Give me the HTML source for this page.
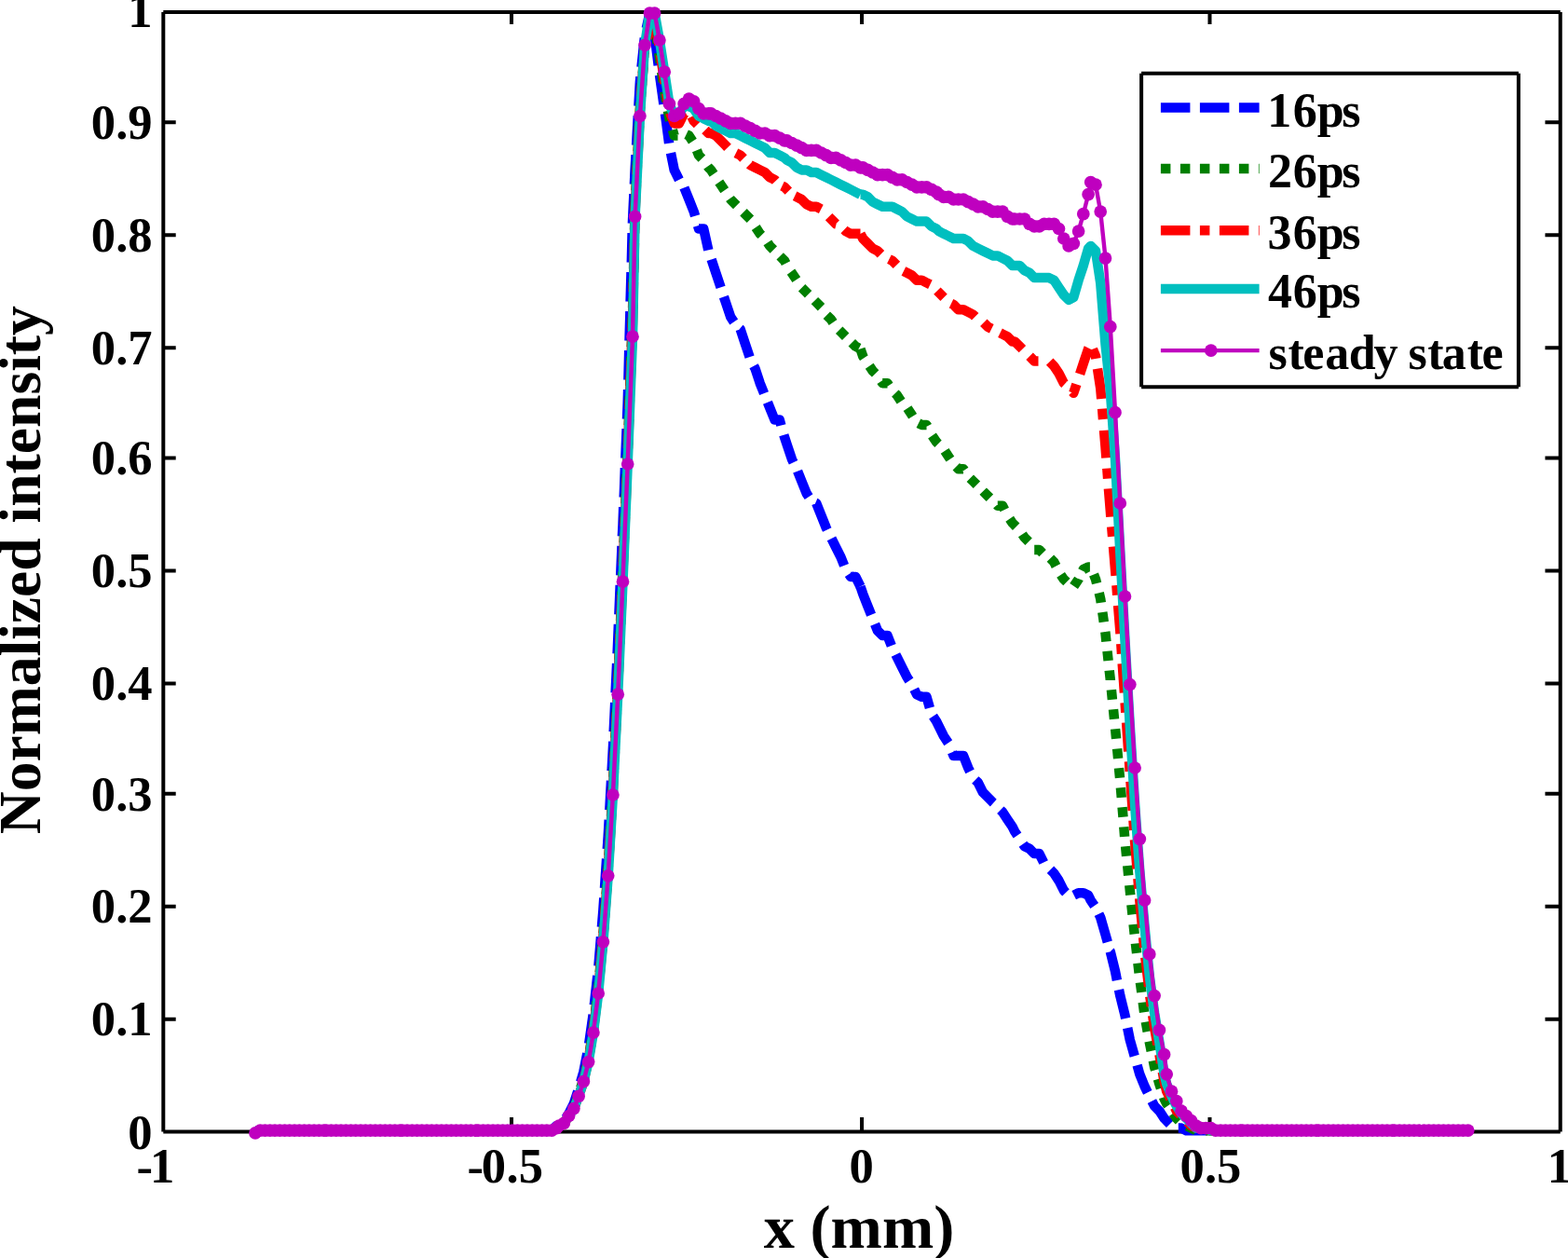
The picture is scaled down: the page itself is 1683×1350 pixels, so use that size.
<!DOCTYPE html>
<html lang="en"><head><meta charset="utf-8"><title>Normalized intensity vs x (mm)</title>
<style>html,body{margin:0;padding:0;background:#fff;overflow:hidden}svg{display:block}text{font-family:"Liberation Serif","DejaVu Serif",serif;font-weight:bold;fill:#000}</style></head><body>
<svg width="1683" height="1350" viewBox="0 0 1683 1350">
<rect width="1683" height="1350" fill="#fff"/>
<g fill="none" stroke="#000" stroke-width="4.0" stroke-linecap="butt">
<path d="M175.3,1214.55H1674.75M175.3,13.0H1674.75M175.3,1214.55V13.0M1674.75,1214.55V13.0"/>
<path d="M175.3,1093.81h13.4M1674.75,1093.81h-16.3M175.3,972.84h13.4M1674.75,972.84h-16.3M175.3,851.87h13.4M1674.75,851.87h-16.3M175.3,733.54h13.4M1674.75,733.54h-16.3M175.3,612.57h13.4M1674.75,612.57h-16.3M175.3,491.61h13.4M1674.75,491.61h-16.3M175.3,373.27h13.4M1674.75,373.27h-16.3M175.3,252.30h13.4M1674.75,252.30h-16.3M175.3,131.34h13.4M1674.75,131.34h-16.3M549.02,1214.55v-15.55M549.02,13.0v12.9M925.06,1214.55v-15.55M925.06,13.0v12.9M1298.48,1214.55v-15.55M1298.48,13.0v12.9"/>
</g>
<g fill="none" stroke-linejoin="round" stroke-linecap="butt">
<path d="M277.3,1213.2L279.3,1213.2L284.5,1213.2L289.8,1213.2L295.0,1213.2L300.3,1213.2L305.6,1213.2L308.8,1213.2M319.3,1213.2L321.3,1213.2L326.6,1213.2L331.8,1213.2L337.1,1213.2L342.4,1213.2L347.6,1213.2L350.3,1213.2L350.8,1213.2M361.3,1213.2L366.0,1213.2L371.3,1213.2L376.6,1213.2L381.8,1213.2L387.1,1213.2L392.3,1213.2L392.8,1213.2M403.3,1213.2L408.1,1213.2L413.4,1213.2L418.6,1213.2L423.9,1213.2L429.1,1213.2L431.8,1213.2L434.8,1213.2M445.3,1213.2L447.6,1213.2L452.8,1213.2L458.1,1213.2L463.3,1213.2L468.6,1213.2L473.9,1213.2L476.8,1213.2M487.3,1213.2L489.6,1213.2L494.9,1213.2L500.2,1213.2L505.4,1213.2L510.7,1213.2L513.3,1213.2L518.6,1213.2L518.8,1213.2M529.3,1213.2L534.3,1213.2L539.6,1213.2L544.9,1213.2L550.1,1213.2L555.4,1213.2L560.6,1213.2L560.8,1213.2M571.3,1213.2L576.4,1213.2L581.7,1213.2L586.9,1213.2L592.2,1213.2L597.4,1208.0L600.1,1208.0L600.4,1207.6M607.3,1199.8L610.6,1194.8L615.9,1184.3L620.2,1171.2M623.2,1161.1L626.4,1150.1L630.3,1130.5M632.2,1120.1L636.6,1089.0M637.8,1078.5L641.3,1047.2M642.4,1036.8L645.0,1005.4M645.9,994.9L647.4,976.6L648.3,963.5M649.0,953.0L651.1,921.6M651.8,911.1L652.7,897.7L653.7,879.7M654.3,869.2L656.0,837.8M656.6,827.3L657.9,803.0L658.3,795.8M658.7,785.3L660.2,753.9M660.6,743.4L662.1,711.9M662.6,701.4L663.2,687.3L663.9,669.9M664.4,659.5L665.7,628.0M666.2,617.5L667.5,586.0M667.9,575.5L668.5,563.7L669.2,544.1M669.7,533.6L670.9,502.1M671.3,491.6L672.6,460.1M673.0,449.6L673.7,432.2L674.1,418.2M674.4,407.7L675.2,376.2M675.5,365.7L676.4,334.2M676.6,323.7L677.5,292.2M677.8,281.7L678.6,250.2M678.9,239.7L679.0,237.6L680.4,208.3M680.9,197.8L681.6,182.4L682.5,166.3M683.1,155.8L684.8,124.4M685.4,113.9L686.9,87.7L687.4,82.5M688.5,72.0L691.8,40.7M693.8,30.4L697.4,14.1L700.6,28.6M702.8,38.8L706.7,70.1M708.0,80.5L712.4,111.7M713.9,122.1L718.1,153.7M720.0,164.1L723.7,182.4L728.9,192.9M734.4,201.4L739.5,214.0L744.7,227.1L746.1,231.8M749.0,242.2L750.0,245.5L755.2,245.5L760.3,268.3M763.6,278.4L768.4,292.8L773.6,308.4M776.9,318.5L778.9,324.4L784.2,340.2L787.7,345.5M794.1,352.8L794.7,353.3L799.9,369.1L804.6,383.1M809.1,392.8L810.5,395.4L815.7,411.2L820.1,422.1M823.9,431.7L826.2,437.5L831.5,450.6L836.8,450.6L838.4,456.5M841.3,466.7L842.0,469.0L844.6,476.9L849.9,492.7L851.6,496.2M856.1,505.6L860.4,516.4L865.7,529.5L868.1,533.1M875.3,539.6L876.2,540.0L881.5,553.2L886.7,566.3L887.8,568.5M892.5,577.9L897.2,587.4L902.5,597.9L906.1,606.9M911.2,616.2L913.0,618.9L918.3,618.9L923.5,629.4" stroke="#0000ff" stroke-width="10.5"/>
<path d="M923.5,629.4L926.2,637.3L931.4,650.5L935.1,659.7M939.1,669.8L941.9,676.8L947.2,682.0L952.5,682.0L956.8,692.9M961.4,702.5L963.0,705.7L968.2,716.2L973.5,726.7L976.0,730.5M981.3,739.7L984.0,745.2L989.3,747.8L994.5,747.8L997.9,759.6M1001.5,768.7L1005.1,774.1L1007.7,779.3L1012.9,789.9L1017.8,797.2M1022.0,807.3L1023.5,810.9L1028.7,810.9L1034.0,810.9L1039.2,824.0L1041.1,827.8M1046.8,836.9L1049.8,839.8L1055.0,850.3L1060.3,855.6L1065.5,860.9L1066.3,861.6M1073.8,869.2L1076.1,871.4L1081.3,879.3L1086.6,887.2L1089.2,892.4L1092.0,896.5M1098.0,905.7L1099.7,908.2L1105.0,910.8L1110.2,916.1L1115.5,916.1L1120.2,925.5M1127.5,933.3L1131.3,937.1L1136.5,945.0L1141.8,955.5L1144.0,957.8M1152.7,960.6L1157.6,958.2L1162.8,958.2L1168.1,960.8L1170.7,966.1L1174.7,972.0M1179.4,980.8L1181.2,984.5L1186.5,1002.9L1188.8,1011.0M1191.7,1021.2L1191.8,1021.3L1197.0,1042.3L1198.9,1051.9M1201.0,1062.1L1202.3,1068.6L1207.5,1089.6L1208.2,1092.8M1210.2,1103.1L1212.8,1115.9L1217.7,1133.2M1220.6,1143.2L1223.3,1152.8L1228.6,1165.9L1231.8,1172.3M1236.4,1181.6L1239.1,1186.9L1244.4,1192.2L1249.6,1200.1L1252.2,1202.7L1255.7,1206.2M1264.8,1210.6L1268.0,1210.6L1273.3,1213.2L1278.5,1213.2L1283.8,1213.2L1289.1,1213.2L1294.3,1213.2L1295.7,1213.2M1306.2,1213.2L1310.1,1213.2L1315.4,1213.2L1320.6,1213.2L1325.9,1213.2L1331.1,1213.2L1333.8,1213.2L1337.7,1213.2M1348.2,1213.2L1349.5,1213.2L1354.8,1213.2L1360.1,1213.2L1365.3,1213.2L1370.6,1213.2L1375.8,1213.2L1379.7,1213.2M1390.2,1213.2L1391.6,1213.2L1396.9,1213.2L1402.1,1213.2L1407.4,1213.2L1412.7,1213.2L1415.3,1213.2L1420.5,1213.2L1421.7,1213.2M1432.2,1213.2L1436.3,1213.2L1441.6,1213.2L1446.8,1213.2L1452.1,1213.2L1457.4,1213.2L1462.6,1213.2L1463.7,1213.2M1474.2,1213.2L1478.4,1213.2L1483.7,1213.2L1488.9,1213.2L1494.2,1213.2L1496.8,1213.2L1502.1,1213.2L1505.7,1213.2M1516.2,1213.2L1517.8,1213.2L1523.1,1213.2L1528.4,1213.2L1533.6,1213.2L1538.9,1213.2L1544.1,1213.2L1547.7,1213.2M1558.2,1213.2L1559.9,1213.2L1565.2,1213.2L1570.4,1213.2L1575.7,1213.2" stroke="#0000ff" stroke-width="10.5"/>
<path d="M274.0,1213.2L279.3,1213.2L282.3,1213.2M292.8,1213.2L295.0,1213.2L300.3,1213.2L303.3,1213.2M313.8,1213.2L316.1,1213.2L321.3,1213.2L324.3,1213.2M334.8,1213.2L337.1,1213.2L342.4,1213.2L345.3,1213.2M355.8,1213.2L360.8,1213.2L366.0,1213.2L366.3,1213.2M376.8,1213.2L381.8,1213.2L387.1,1213.2L387.3,1213.2M397.8,1213.2L402.9,1213.2L408.1,1213.2L408.3,1213.2M418.8,1213.2L423.9,1213.2L429.1,1213.2L429.3,1213.2M439.8,1213.2L442.3,1213.2L447.6,1213.2L450.3,1213.2M460.8,1213.2L463.3,1213.2L468.6,1213.2L471.3,1213.2M481.8,1213.2L484.4,1213.2L489.6,1213.2L492.3,1213.2M502.8,1213.2L505.4,1213.2L510.7,1213.2L513.3,1213.2M523.8,1213.2L529.1,1213.2L534.3,1213.2M544.8,1213.2L544.9,1213.2L550.1,1213.2L555.3,1213.2M565.8,1213.2L565.9,1213.2L571.2,1213.2L576.3,1213.2M586.8,1213.2L586.9,1213.2L592.2,1213.2L596.8,1211.0M605.4,1205.3L610.6,1197.5L611.2,1196.5M616.5,1187.5L619.9,1177.6M623.2,1167.6L626.4,1158.0L626.5,1157.6M629.0,1147.4L631.6,1137.3M633.2,1126.9L634.8,1116.5M636.4,1106.1L636.9,1102.8L637.8,1095.7M639.1,1085.3L640.4,1074.9M641.7,1064.5L642.2,1060.7L642.8,1054.0M643.7,1043.6L644.7,1033.1M645.6,1022.7L646.6,1012.2M647.5,1001.7L648.3,991.3M649.0,980.8L649.8,970.3M650.6,959.9L651.4,949.4M652.2,938.9L652.7,931.9L652.9,928.4M653.5,918.0L654.1,907.5M654.7,897.0L655.3,886.5M656.0,876.0L656.6,865.5M657.2,855.1L657.8,844.6M658.3,834.1L658.9,823.6M659.4,813.1L659.9,802.6M660.4,792.1L660.9,781.7M661.4,771.2L661.9,760.7M662.4,750.2L662.9,739.7M663.4,729.2L663.9,718.7M664.3,708.2L664.8,697.7M665.2,687.3L665.7,676.8M666.1,666.3L666.5,655.8M667.0,645.3L667.4,634.8M667.9,624.3L668.3,613.8M668.8,603.3L669.2,592.8M669.6,582.4L670.1,571.9M670.5,561.4L671.0,550.9M671.4,540.4L671.8,529.9M672.3,519.4L672.7,508.9M673.1,498.4L673.6,487.9M674.0,477.4L674.3,466.9M674.7,456.5L675.1,446.0M675.5,435.5L675.8,425.0M676.2,414.5L676.6,404.0M677.0,393.5L677.3,383.0M677.7,372.5L678.1,362.0M678.5,351.5L678.8,341.0M679.1,330.5L679.4,320.0M679.6,309.5L679.8,299.0M680.1,288.5L680.3,278.0M680.6,267.5L680.8,257.1M681.0,246.6L681.3,236.1M681.5,225.6L681.6,221.8L681.9,215.1M682.5,204.6L683.0,194.1M683.5,183.6L684.0,173.1M684.6,162.6L685.1,152.1M685.6,141.7L686.1,131.2M686.7,120.7L686.9,116.7L687.4,110.2M688.2,99.7L689.0,89.3M689.8,78.8L690.6,68.3M691.4,57.9L692.1,48.3L692.5,47.5M697.2,38.1L697.4,37.8L701.9,28.7M704.0,36.0L705.6,46.4M707.2,56.8L707.9,61.4L708.7,67.2M710.2,77.6L711.7,87.9M713.2,98.3L715.1,108.7M716.9,119.0L718.4,127.2L719.0,129.3M721.9,139.4L723.7,145.6L727.5,145.6M736.6,144.2L739.5,145.6L743.4,151.6M747.9,161.3L750.0,166.6L753.4,170.1M759.6,178.5L760.5,179.8L763.1,182.4L766.0,186.7M771.8,195.5L773.6,198.2L777.7,204.3M783.5,213.0L784.2,214.0L789.4,219.2L790.7,220.5M798.0,227.8L799.9,229.7L805.2,235.0L805.4,235.2M811.2,244.0L815.7,250.8L817.3,252.4M823.9,260.4L826.2,263.9L830.3,268.0M837.2,274.9L842.0,279.7L843.5,282.6M849.0,291.6L849.9,292.8L854.8,300.2M860.6,308.8L865.7,313.9L867.6,315.8M874.4,322.6L876.2,324.4L881.5,329.7M887.3,338.2L892.0,342.8L894.1,346.0M900.7,354.2L902.5,356.0L907.7,361.2M914.3,367.7L918.3,371.7L922.0,373.6" stroke="#007f00" stroke-width="10.5"/>
<path d="M923.5,374.4L926.2,382.3L927.4,384.1M933.2,392.8L936.7,398.0L939.6,400.9M945.8,409.1L947.2,411.2L952.5,411.2L954.1,413.6M960.8,422.1L963.0,424.3L967.1,430.6M974.0,438.2L978.8,445.4L979.6,446.7M985.9,454.2L989.3,455.9L994.5,455.9L995.3,457.4M1000.5,467.5L1005.1,474.3L1007.0,476.2M1014.1,483.9L1018.2,490.1L1019.9,492.6M1026.3,500.8L1028.7,503.2L1034.0,503.2L1035.0,504.7M1041.3,513.2L1044.5,516.4L1048.4,520.3M1055.2,527.1L1060.3,532.2L1062.4,534.3M1070.1,541.9L1070.8,542.7L1076.1,542.7L1078.2,547.0M1083.7,556.8L1086.6,561.1L1089.2,563.7L1090.7,565.2M1097.3,573.3L1099.7,576.9L1104.1,581.3M1110.2,590.0L1115.5,590.0L1119.1,593.6M1127.4,599.2L1131.3,603.2L1133.5,607.5M1138.6,616.8L1141.8,621.6L1144.9,624.6M1152.6,629.0L1157.6,621.6L1157.8,621.1M1162.0,612.6L1162.8,611.0L1168.1,608.4L1169.9,608.4M1174.0,616.5L1176.0,621.6L1177.1,626.1M1179.7,636.3L1181.2,642.6L1181.8,646.7M1183.3,657.1L1184.8,667.5M1186.3,678.0L1186.5,679.4L1187.4,688.4M1188.5,698.7L1189.6,709.0M1190.7,719.5L1191.8,729.4L1191.8,729.9M1192.9,740.3L1193.9,750.8M1195.0,761.3L1196.0,771.8M1197.1,782.3L1198.1,792.8M1199.1,803.4L1200.1,813.9M1201.0,824.2L1202.0,834.7M1202.9,845.3L1203.8,855.9M1204.6,866.3L1205.5,876.8M1206.3,887.3L1207.1,897.8M1208.1,908.3L1209.1,918.7M1210.2,929.1L1211.2,939.6M1212.3,950.1L1212.8,955.5L1213.3,960.6M1214.4,971.0L1215.5,981.4M1216.6,992.0L1217.7,1002.4M1218.9,1012.5L1220.1,1022.9M1221.4,1033.6L1222.6,1044.1M1223.9,1054.4L1225.3,1064.9M1226.7,1075.6L1228.1,1086.2M1229.8,1096.6L1231.7,1107.0M1233.6,1117.5L1233.8,1118.6L1235.7,1127.9M1237.8,1138.2L1239.1,1144.9L1240.1,1148.3M1242.9,1158.0L1244.4,1163.3L1245.9,1167.8M1249.1,1177.5L1249.6,1179.1L1252.2,1184.3L1253.7,1186.5M1259.2,1194.8L1262.8,1200.1L1265.5,1202.8M1274.2,1208.4L1278.5,1210.6L1283.6,1213.1M1294.1,1213.2L1294.3,1213.2L1299.6,1213.2L1304.6,1213.2M1315.1,1213.2L1315.4,1213.2L1320.6,1213.2L1325.6,1213.2M1336.1,1213.2L1339.0,1213.2L1344.3,1213.2L1346.6,1213.2M1357.1,1213.2L1360.1,1213.2L1365.3,1213.2L1367.6,1213.2M1378.1,1213.2L1381.1,1213.2L1386.4,1213.2L1388.6,1213.2M1399.1,1213.2L1402.1,1213.2L1407.4,1213.2L1409.6,1213.2M1420.1,1213.2L1420.5,1213.2L1425.8,1213.2L1430.6,1213.2M1441.1,1213.2L1441.6,1213.2L1446.8,1213.2L1451.6,1213.2M1462.1,1213.2L1462.6,1213.2L1467.9,1213.2L1472.6,1213.2M1483.1,1213.2L1483.7,1213.2L1488.9,1213.2L1493.6,1213.2M1504.1,1213.2L1507.3,1213.2L1512.6,1213.2L1514.6,1213.2M1525.1,1213.2L1528.4,1213.2L1533.6,1213.2L1535.6,1213.2M1546.1,1213.2L1549.4,1213.2L1554.7,1213.2L1556.6,1213.2M1567.1,1213.2L1570.4,1213.2L1575.7,1213.2" stroke="#007f00" stroke-width="10.5"/>
<path d="M274.0,1213.2L279.3,1213.2L284.5,1213.2L289.8,1213.2L295.0,1213.2L299.6,1213.2M310.1,1213.2L310.8,1213.2L316.1,1213.2L320.6,1213.2M331.1,1213.2L331.8,1213.2L337.1,1213.2L342.4,1213.2L347.6,1213.2L350.3,1213.2L355.5,1213.2L360.8,1213.2L362.6,1213.2M373.1,1213.2L376.6,1213.2L381.8,1213.2L383.6,1213.2M394.1,1213.2L397.6,1213.2L402.9,1213.2L408.1,1213.2L413.4,1213.2L418.6,1213.2L423.9,1213.2L425.6,1213.2M436.1,1213.2L437.0,1213.2L442.3,1213.2L446.6,1213.2M457.1,1213.2L458.1,1213.2L463.3,1213.2L468.6,1213.2L473.9,1213.2L479.1,1213.2L484.4,1213.2L488.6,1213.2M499.1,1213.2L500.2,1213.2L505.4,1213.2L509.6,1213.2M520.1,1213.2L523.8,1213.2L529.1,1213.2L534.3,1213.2L539.6,1213.2L544.9,1213.2L550.1,1213.2L551.6,1213.2M562.1,1213.2L565.9,1213.2L571.2,1213.2L572.6,1213.2M583.1,1213.2L586.9,1213.2L592.2,1213.2L597.4,1210.6L600.1,1208.0L605.3,1205.4L609.2,1199.5M615.0,1190.8L615.9,1189.6L619.2,1181.2M622.8,1171.3L626.4,1160.6L630.8,1140.9M632.7,1130.6L634.4,1120.2M636.2,1109.9L636.9,1105.4L640.2,1078.6M641.5,1068.2L642.2,1063.4L642.7,1057.8M643.6,1047.3L646.5,1016.0M647.4,1005.5L648.2,995.0M649.0,984.6L651.3,953.1M652.1,942.7L652.7,934.5L652.8,932.2M653.4,921.7L655.4,890.3M656.0,879.8L656.6,869.3M657.3,858.8L657.9,847.7L658.9,827.4M659.4,816.9L659.9,806.4M660.4,795.9L661.9,764.5M662.4,754.0L662.9,743.5M663.4,733.0L664.7,701.5M665.2,691.0L665.7,680.5M666.1,670.0L667.5,638.6M667.9,628.1L668.4,617.6M668.8,607.1L670.1,575.6M670.6,565.1L671.0,554.7M671.5,544.2L672.8,512.7M673.2,502.2L673.6,491.7M674.0,481.2L675.2,449.7M675.6,439.2L675.9,428.7M676.3,418.3L677.5,386.8M677.8,376.3L678.2,365.8M678.6,355.3L679.0,345.4L679.5,323.8M679.7,313.3L679.9,302.8M680.2,292.3L680.9,260.8M681.1,250.3L681.3,239.8M681.6,229.3L681.6,227.1L683.0,197.9M683.5,187.4L684.0,176.9M684.6,166.4L686.1,134.9M686.6,124.5L686.9,119.3L687.3,114.0M688.0,103.5L690.4,72.1M691.1,61.6L691.9,51.1M694.5,41.0L697.4,32.5L702.6,19.4L704.0,27.6M705.7,37.9L707.5,48.3M709.0,58.7L713.2,87.7L713.5,89.9M715.2,100.2L717.0,110.6M719.0,120.8L723.7,132.4L728.9,132.4L734.2,121.9L736.0,121.0M742.4,125.2L744.7,129.8L748.5,133.6M757.0,139.5L760.5,143.0L763.1,143.0L768.4,145.6L773.6,150.8L778.9,156.1L781.0,158.3M789.9,164.2L794.7,166.6L798.0,170.0M804.6,176.5L805.2,177.1L810.5,179.8L815.7,182.4L821.0,185.0L826.2,190.3L831.5,192.9L832.6,194.1M839.5,199.6L842.0,200.8L844.6,203.4L846.3,205.1M853.1,210.3L855.2,211.3L860.4,214.0L865.7,219.2L870.9,221.8L876.2,221.8L881.3,224.4M889.6,232.6L892.0,235.0L897.2,240.3L897.6,240.4M906.1,246.5L907.8,248.1L913.0,250.8L918.3,250.8L923.5,250.8" stroke="#ff0000" stroke-width="10.5"/>
<path d="M923.5,250.8L926.2,256.0L931.4,261.3L936.7,266.6L941.9,269.2L945.5,272.8M954.4,278.1L957.7,279.7L962.4,284.4M969.9,291.0L973.5,292.8L978.8,295.5L984.0,300.7L989.3,300.7L994.5,303.4L998.4,305.3M1005.9,312.1L1007.7,313.9L1012.9,319.1L1013.1,319.3M1021.0,325.8L1023.5,327.0L1028.7,332.3L1034.0,332.3L1039.2,334.9L1044.5,337.6L1046.7,339.8M1055.8,346.2L1060.3,350.7L1064.3,352.7M1073.5,357.3L1076.1,358.6L1081.3,361.2L1086.6,366.5L1089.2,366.5L1094.5,371.7L1097.4,374.6M1105.1,382.3L1110.2,387.5L1114.5,387.5M1126.7,388.1L1131.3,392.8L1136.5,400.7L1141.8,411.2L1142.8,412.1M1151.0,420.4L1152.3,421.7L1155.4,412.4M1159.1,401.4L1162.8,390.1L1168.1,374.4L1168.5,373.6M1172.9,374.6L1176.0,382.3L1176.4,384.8M1178.0,395.6L1181.2,416.4L1182.2,428.0M1183.1,438.7L1184.0,450.0M1185.0,461.9L1186.5,479.6L1187.4,491.3M1188.3,502.6L1189.1,513.6M1189.9,524.3L1191.8,547.9L1192.3,554.6M1193.2,565.2L1194.1,575.8M1195.0,586.5L1197.0,611.0L1197.6,617.7M1198.4,628.0L1199.2,638.7M1200.1,649.8L1202.3,676.8L1202.5,680.1M1203.3,691.0L1204.0,701.7M1204.7,712.2L1206.9,743.4M1207.6,754.1L1208.3,764.7M1209.1,775.4L1211.2,806.5M1212.0,817.2L1212.7,827.9M1213.5,838.6L1215.7,869.8M1216.5,880.5L1217.2,890.9M1217.9,901.0L1218.1,902.9L1220.5,932.2M1221.4,942.9L1222.3,953.6M1223.2,964.3L1223.3,966.1L1226.1,995.5M1227.1,1006.1L1228.1,1016.7M1229.3,1027.4L1233.0,1058.6M1234.3,1069.3L1235.8,1079.7M1237.2,1089.8L1239.1,1102.8L1242.4,1121.0M1244.2,1131.1L1244.4,1131.7L1246.0,1140.9M1247.8,1150.4L1249.6,1160.6L1252.2,1171.2L1256.2,1179.0M1260.9,1188.4L1262.8,1192.2L1267.2,1196.6M1274.6,1204.0L1278.5,1208.0L1283.8,1210.6L1289.1,1210.6L1294.3,1210.6L1299.6,1213.2L1303.2,1213.2M1313.7,1213.2L1315.4,1213.2L1320.6,1213.2L1324.2,1213.2M1334.7,1213.2L1339.0,1213.2L1344.3,1213.2L1349.5,1213.2L1354.8,1213.2L1360.1,1213.2L1365.3,1213.2L1366.2,1213.2M1376.7,1213.2L1381.1,1213.2L1386.4,1213.2L1387.2,1213.2M1397.7,1213.2L1402.1,1213.2L1407.4,1213.2L1412.7,1213.2L1415.3,1213.2L1420.5,1213.2L1425.8,1213.2L1429.2,1213.2M1439.7,1213.2L1441.6,1213.2L1446.8,1213.2L1450.2,1213.2M1460.7,1213.2L1462.6,1213.2L1467.9,1213.2L1473.1,1213.2L1478.4,1213.2L1483.7,1213.2L1488.9,1213.2L1492.2,1213.2M1502.7,1213.2L1507.3,1213.2L1512.6,1213.2L1513.2,1213.2M1523.7,1213.2L1528.4,1213.2L1533.6,1213.2L1538.9,1213.2L1544.1,1213.2L1549.4,1213.2L1554.7,1213.2L1555.2,1213.2M1565.7,1213.2L1570.4,1213.2L1575.7,1213.2" stroke="#ff0000" stroke-width="10.5"/>
<path d="M274.0,1213.2L279.3,1213.2L284.5,1213.2L289.8,1213.2L295.0,1213.2L300.3,1213.2L305.6,1213.2L310.8,1213.2L316.1,1213.2L321.3,1213.2L326.6,1213.2L331.8,1213.2L337.1,1213.2L342.4,1213.2L347.6,1213.2L350.3,1213.2L355.5,1213.2L360.8,1213.2L366.0,1213.2L371.3,1213.2L376.6,1213.2L381.8,1213.2L387.1,1213.2L392.3,1213.2L397.6,1213.2L402.9,1213.2L408.1,1213.2L413.4,1213.2L418.6,1213.2L423.9,1213.2L429.1,1213.2L431.8,1213.2L437.0,1213.2L442.3,1213.2L447.6,1213.2L452.8,1213.2L458.1,1213.2L463.3,1213.2L468.6,1213.2L473.9,1213.2L479.1,1213.2L484.4,1213.2L489.6,1213.2L494.9,1213.2L500.2,1213.2L505.4,1213.2L510.7,1213.2L513.3,1213.2L518.6,1213.2L523.8,1213.2L529.1,1213.2L534.3,1213.2L539.6,1213.2L544.9,1213.2L550.1,1213.2L555.4,1213.2L560.6,1213.2L565.9,1213.2L571.2,1213.2L576.4,1213.2L581.7,1213.2L586.9,1213.2L592.2,1213.2L597.4,1210.6L600.1,1208.0L605.3,1205.4L610.6,1197.5L615.9,1189.6L621.1,1176.4L626.4,1160.6L631.6,1139.6L636.9,1108.1L642.2,1066.0L647.4,1010.8L652.7,939.8L657.9,853.0L663.2,745.2L668.5,624.2L673.7,498.0L679.0,361.2L681.6,232.4L686.9,124.5L692.1,48.3L697.4,14.1L702.6,14.1L707.9,43.0L713.2,77.2L718.4,111.4L723.7,124.5L728.9,121.9L734.2,114.0L739.5,114.0L744.7,116.7L750.0,124.5L755.2,127.2L760.5,129.8L763.1,129.8L768.4,135.1L773.6,137.7L778.9,140.3L784.2,143.0L789.4,143.0L794.7,145.6L799.9,148.2L805.2,150.8L810.5,153.5L815.7,156.1L821.0,158.7L826.2,164.0L831.5,164.0L836.8,166.6L842.0,169.3L844.6,171.9L849.9,174.5L855.2,179.8L860.4,182.4L865.7,182.4L870.9,185.0L876.2,185.0L881.5,187.7L886.7,190.3L892.0,192.9L897.2,195.5L902.5,198.2L907.8,200.8L913.0,203.4L918.3,206.1L923.5,208.7" stroke="#00bfbf" stroke-width="10.5"/>
<path d="M923.5,208.7L926.2,208.7L931.4,211.3L936.7,216.6L941.9,219.2L947.2,221.8L952.5,221.8L957.7,221.8L963.0,224.5L968.2,227.1L973.5,232.4L978.8,235.0L984.0,237.6L989.3,237.6L994.5,237.6L999.8,242.9L1005.1,245.5L1007.7,248.1L1012.9,250.8L1018.2,253.4L1023.5,256.0L1028.7,256.0L1034.0,256.0L1039.2,258.7L1044.5,263.9L1049.8,266.6L1055.0,269.2L1060.3,271.8L1065.5,274.4L1070.8,274.4L1076.1,277.1L1081.3,279.7L1086.6,285.0L1089.2,285.0L1094.5,285.0L1099.7,290.2L1105.0,292.8L1110.2,298.1L1115.5,298.1L1120.8,298.1L1126.0,298.1L1131.3,300.7L1136.5,308.6L1141.8,316.5L1147.1,321.8L1152.3,319.1L1157.6,300.7L1162.8,285.0L1168.1,266.6L1170.7,263.9L1176.0,269.2L1181.2,303.4L1186.5,369.1L1191.8,419.1L1197.0,492.7L1202.3,592.6L1207.5,687.3L1212.8,779.3L1218.1,863.5L1223.3,934.5L1228.6,995.0L1233.8,1047.6L1239.1,1087.0L1244.4,1118.6L1249.6,1152.8L1252.2,1163.3L1257.5,1176.4L1262.8,1186.9L1268.0,1194.8L1273.3,1200.1L1278.5,1205.4L1283.8,1210.6L1289.1,1210.6L1294.3,1210.6L1299.6,1213.2L1304.8,1213.2L1310.1,1213.2L1315.4,1213.2L1320.6,1213.2L1325.9,1213.2L1331.1,1213.2L1333.8,1213.2L1339.0,1213.2L1344.3,1213.2L1349.5,1213.2L1354.8,1213.2L1360.1,1213.2L1365.3,1213.2L1370.6,1213.2L1375.8,1213.2L1381.1,1213.2L1386.4,1213.2L1391.6,1213.2L1396.9,1213.2L1402.1,1213.2L1407.4,1213.2L1412.7,1213.2L1415.3,1213.2L1420.5,1213.2L1425.8,1213.2L1431.1,1213.2L1436.3,1213.2L1441.6,1213.2L1446.8,1213.2L1452.1,1213.2L1457.4,1213.2L1462.6,1213.2L1467.9,1213.2L1473.1,1213.2L1478.4,1213.2L1483.7,1213.2L1488.9,1213.2L1494.2,1213.2L1496.8,1213.2L1502.1,1213.2L1507.3,1213.2L1512.6,1213.2L1517.8,1213.2L1523.1,1213.2L1528.4,1213.2L1533.6,1213.2L1538.9,1213.2L1544.1,1213.2L1549.4,1213.2L1554.7,1213.2L1559.9,1213.2L1565.2,1213.2L1570.4,1213.2L1575.7,1213.2" stroke="#00bfbf" stroke-width="10.5"/>
<path d="M274.0,1215.9L279.3,1213.2L284.5,1213.2L289.8,1213.2L295.0,1213.2L300.3,1213.2L305.6,1213.2L310.8,1213.2L316.1,1213.2L321.3,1213.2L326.6,1213.2L331.8,1213.2L337.1,1213.2L342.4,1213.2L347.6,1213.2L350.3,1213.2L355.5,1213.2L360.8,1213.2L366.0,1213.2L371.3,1213.2L376.6,1213.2L381.8,1213.2L387.1,1213.2L392.3,1213.2L397.6,1213.2L402.9,1213.2L408.1,1213.2L413.4,1213.2L418.6,1213.2L423.9,1213.2L429.1,1213.2L431.8,1213.2L437.0,1213.2L442.3,1213.2L447.6,1213.2L452.8,1213.2L458.1,1213.2L463.3,1213.2L468.6,1213.2L473.9,1213.2L479.1,1213.2L484.4,1213.2L489.6,1213.2L494.9,1213.2L500.2,1213.2L505.4,1213.2L510.7,1213.2L513.3,1213.2L518.6,1213.2L523.8,1213.2L529.1,1213.2L534.3,1213.2L539.6,1213.2L544.9,1213.2L550.1,1213.2L555.4,1213.2L560.6,1213.2L565.9,1213.2L571.2,1213.2L576.4,1213.2L581.7,1213.2L586.9,1213.2L592.2,1213.2L597.4,1210.6L600.1,1208.0L605.3,1205.4L610.6,1197.5L615.9,1189.6L621.1,1176.4L626.4,1160.6L631.6,1139.6L636.9,1108.1L642.2,1066.0L647.4,1010.8L652.7,939.8L657.9,853.0L663.2,745.2L668.5,624.2L673.7,498.0L679.0,361.2L681.6,232.4L686.9,124.5L692.1,48.3L697.4,14.1L702.6,14.1L707.9,43.0L713.2,77.2L718.4,111.4L723.7,124.5L728.9,121.9L734.2,111.4L739.5,106.1L744.7,108.8L750.0,116.7L755.2,121.9L760.5,121.9L763.1,121.9L768.4,124.5L773.6,127.2L778.9,129.8L784.2,132.4L789.4,132.4L794.7,132.4L799.9,135.1L805.2,137.7L810.5,140.3L815.7,143.0L821.0,143.0L826.2,145.6L831.5,145.6L836.8,148.2L842.0,150.8L844.6,150.8L849.9,153.5L855.2,156.1L860.4,158.7L865.7,161.4L870.9,161.4L876.2,161.4L881.5,164.0L886.7,166.6L892.0,169.3L897.2,169.3L902.5,171.9L907.8,174.5L913.0,177.1L918.3,177.1L923.5,179.8" stroke="#bf00bf" stroke-width="4.4"/>
<path d="M923.5,179.8L926.2,179.8L931.4,182.4L936.7,185.0L941.9,187.7L947.2,187.7L952.5,187.7L957.7,190.3L963.0,192.9L968.2,192.9L973.5,195.5L978.8,198.2L984.0,200.8L989.3,200.8L994.5,200.8L999.8,203.4L1005.1,206.1L1007.7,208.7L1012.9,211.3L1018.2,211.3L1023.5,214.0L1028.7,214.0L1034.0,214.0L1039.2,216.6L1044.5,219.2L1049.8,221.8L1055.0,221.8L1060.3,224.5L1065.5,227.1L1070.8,227.1L1076.1,227.1L1081.3,232.4L1086.6,235.0L1089.2,235.0L1094.5,235.0L1099.7,235.0L1105.0,240.3L1110.2,242.9L1115.5,242.9L1120.8,240.3L1126.0,240.3L1131.3,240.3L1136.5,245.5L1141.8,256.0L1147.1,263.9L1152.3,261.3L1157.6,248.1L1162.8,229.7L1168.1,208.7L1170.7,195.5L1176.0,198.2L1181.2,227.1L1186.5,277.1L1191.8,350.7L1197.0,442.7L1202.3,540.0L1207.5,640.0L1212.8,734.6L1218.1,824.0L1223.3,900.3L1228.6,966.1L1233.8,1023.9L1239.1,1068.6L1244.4,1105.4L1249.6,1131.7L1252.2,1152.8L1257.5,1171.2L1262.8,1181.7L1268.0,1192.2L1273.3,1197.5L1278.5,1202.7L1283.8,1208.0L1289.1,1210.6L1294.3,1210.6L1299.6,1210.6L1304.8,1213.2L1310.1,1213.2L1315.4,1213.2L1320.6,1213.2L1325.9,1213.2L1331.1,1213.2L1333.8,1213.2L1339.0,1213.2L1344.3,1213.2L1349.5,1213.2L1354.8,1213.2L1360.1,1213.2L1365.3,1213.2L1370.6,1213.2L1375.8,1213.2L1381.1,1213.2L1386.4,1213.2L1391.6,1213.2L1396.9,1213.2L1402.1,1213.2L1407.4,1213.2L1412.7,1213.2L1415.3,1213.2L1420.5,1213.2L1425.8,1213.2L1431.1,1213.2L1436.3,1213.2L1441.6,1213.2L1446.8,1213.2L1452.1,1213.2L1457.4,1213.2L1462.6,1213.2L1467.9,1213.2L1473.1,1213.2L1478.4,1213.2L1483.7,1213.2L1488.9,1213.2L1494.2,1213.2L1496.8,1213.2L1502.1,1213.2L1507.3,1213.2L1512.6,1213.2L1517.8,1213.2L1523.1,1213.2L1528.4,1213.2L1533.6,1213.2L1538.9,1213.2L1544.1,1213.2L1549.4,1213.2L1554.7,1213.2L1559.9,1213.2L1565.2,1213.2L1570.4,1213.2L1575.7,1213.2" stroke="#bf00bf" stroke-width="4.4"/>
</g>
<g fill="#bf00bf">
<circle cx="274.0" cy="1215.9" r="6.85"/>
<circle cx="279.3" cy="1213.2" r="6.85"/>
<circle cx="284.5" cy="1213.2" r="6.85"/>
<circle cx="289.8" cy="1213.2" r="6.85"/>
<circle cx="295.0" cy="1213.2" r="6.85"/>
<circle cx="300.3" cy="1213.2" r="6.85"/>
<circle cx="305.6" cy="1213.2" r="6.85"/>
<circle cx="310.8" cy="1213.2" r="6.85"/>
<circle cx="316.1" cy="1213.2" r="6.85"/>
<circle cx="321.3" cy="1213.2" r="6.85"/>
<circle cx="326.6" cy="1213.2" r="6.85"/>
<circle cx="331.8" cy="1213.2" r="6.85"/>
<circle cx="337.1" cy="1213.2" r="6.85"/>
<circle cx="342.4" cy="1213.2" r="6.85"/>
<circle cx="347.6" cy="1213.2" r="6.85"/>
<circle cx="350.3" cy="1213.2" r="6.85"/>
<circle cx="355.5" cy="1213.2" r="6.85"/>
<circle cx="360.8" cy="1213.2" r="6.85"/>
<circle cx="366.0" cy="1213.2" r="6.85"/>
<circle cx="371.3" cy="1213.2" r="6.85"/>
<circle cx="376.6" cy="1213.2" r="6.85"/>
<circle cx="381.8" cy="1213.2" r="6.85"/>
<circle cx="387.1" cy="1213.2" r="6.85"/>
<circle cx="392.3" cy="1213.2" r="6.85"/>
<circle cx="397.6" cy="1213.2" r="6.85"/>
<circle cx="402.9" cy="1213.2" r="6.85"/>
<circle cx="408.1" cy="1213.2" r="6.85"/>
<circle cx="413.4" cy="1213.2" r="6.85"/>
<circle cx="418.6" cy="1213.2" r="6.85"/>
<circle cx="423.9" cy="1213.2" r="6.85"/>
<circle cx="429.1" cy="1213.2" r="6.85"/>
<circle cx="431.8" cy="1213.2" r="6.85"/>
<circle cx="437.0" cy="1213.2" r="6.85"/>
<circle cx="442.3" cy="1213.2" r="6.85"/>
<circle cx="447.6" cy="1213.2" r="6.85"/>
<circle cx="452.8" cy="1213.2" r="6.85"/>
<circle cx="458.1" cy="1213.2" r="6.85"/>
<circle cx="463.3" cy="1213.2" r="6.85"/>
<circle cx="468.6" cy="1213.2" r="6.85"/>
<circle cx="473.9" cy="1213.2" r="6.85"/>
<circle cx="479.1" cy="1213.2" r="6.85"/>
<circle cx="484.4" cy="1213.2" r="6.85"/>
<circle cx="489.6" cy="1213.2" r="6.85"/>
<circle cx="494.9" cy="1213.2" r="6.85"/>
<circle cx="500.2" cy="1213.2" r="6.85"/>
<circle cx="505.4" cy="1213.2" r="6.85"/>
<circle cx="510.7" cy="1213.2" r="6.85"/>
<circle cx="513.3" cy="1213.2" r="6.85"/>
<circle cx="518.6" cy="1213.2" r="6.85"/>
<circle cx="523.8" cy="1213.2" r="6.85"/>
<circle cx="529.1" cy="1213.2" r="6.85"/>
<circle cx="534.3" cy="1213.2" r="6.85"/>
<circle cx="539.6" cy="1213.2" r="6.85"/>
<circle cx="544.9" cy="1213.2" r="6.85"/>
<circle cx="550.1" cy="1213.2" r="6.85"/>
<circle cx="555.4" cy="1213.2" r="6.85"/>
<circle cx="560.6" cy="1213.2" r="6.85"/>
<circle cx="565.9" cy="1213.2" r="6.85"/>
<circle cx="571.2" cy="1213.2" r="6.85"/>
<circle cx="576.4" cy="1213.2" r="6.85"/>
<circle cx="581.7" cy="1213.2" r="6.85"/>
<circle cx="586.9" cy="1213.2" r="6.85"/>
<circle cx="592.2" cy="1213.2" r="6.85"/>
<circle cx="597.4" cy="1210.6" r="6.85"/>
<circle cx="600.1" cy="1208.0" r="6.85"/>
<circle cx="605.3" cy="1205.4" r="6.85"/>
<circle cx="610.6" cy="1197.5" r="6.85"/>
<circle cx="615.9" cy="1189.6" r="6.85"/>
<circle cx="621.1" cy="1176.4" r="6.85"/>
<circle cx="626.4" cy="1160.6" r="6.85"/>
<circle cx="631.6" cy="1139.6" r="6.85"/>
<circle cx="636.9" cy="1108.1" r="6.85"/>
<circle cx="642.2" cy="1066.0" r="6.85"/>
<circle cx="647.4" cy="1010.8" r="6.85"/>
<circle cx="652.7" cy="939.8" r="6.85"/>
<circle cx="657.9" cy="853.0" r="6.85"/>
<circle cx="663.2" cy="745.2" r="6.85"/>
<circle cx="668.5" cy="624.2" r="6.85"/>
<circle cx="673.7" cy="498.0" r="6.85"/>
<circle cx="679.0" cy="361.2" r="6.85"/>
<circle cx="681.6" cy="232.4" r="6.85"/>
<circle cx="686.9" cy="124.5" r="6.85"/>
<circle cx="692.1" cy="48.3" r="6.85"/>
<circle cx="697.4" cy="14.1" r="6.85"/>
<circle cx="702.6" cy="14.1" r="6.85"/>
<circle cx="707.9" cy="43.0" r="6.85"/>
<circle cx="713.2" cy="77.2" r="6.85"/>
<circle cx="718.4" cy="111.4" r="6.85"/>
<circle cx="723.7" cy="124.5" r="6.85"/>
<circle cx="728.9" cy="121.9" r="6.85"/>
<circle cx="734.2" cy="111.4" r="6.85"/>
<circle cx="739.5" cy="106.1" r="6.85"/>
<circle cx="744.7" cy="108.8" r="6.85"/>
<circle cx="750.0" cy="116.7" r="6.85"/>
<circle cx="755.2" cy="121.9" r="6.85"/>
<circle cx="760.5" cy="121.9" r="6.85"/>
<circle cx="763.1" cy="121.9" r="6.85"/>
<circle cx="768.4" cy="124.5" r="6.85"/>
<circle cx="773.6" cy="127.2" r="6.85"/>
<circle cx="778.9" cy="129.8" r="6.85"/>
<circle cx="784.2" cy="132.4" r="6.85"/>
<circle cx="789.4" cy="132.4" r="6.85"/>
<circle cx="794.7" cy="132.4" r="6.85"/>
<circle cx="799.9" cy="135.1" r="6.85"/>
<circle cx="805.2" cy="137.7" r="6.85"/>
<circle cx="810.5" cy="140.3" r="6.85"/>
<circle cx="815.7" cy="143.0" r="6.85"/>
<circle cx="821.0" cy="143.0" r="6.85"/>
<circle cx="826.2" cy="145.6" r="6.85"/>
<circle cx="831.5" cy="145.6" r="6.85"/>
<circle cx="836.8" cy="148.2" r="6.85"/>
<circle cx="842.0" cy="150.8" r="6.85"/>
<circle cx="844.6" cy="150.8" r="6.85"/>
<circle cx="849.9" cy="153.5" r="6.85"/>
<circle cx="855.2" cy="156.1" r="6.85"/>
<circle cx="860.4" cy="158.7" r="6.85"/>
<circle cx="865.7" cy="161.4" r="6.85"/>
<circle cx="870.9" cy="161.4" r="6.85"/>
<circle cx="876.2" cy="161.4" r="6.85"/>
<circle cx="881.5" cy="164.0" r="6.85"/>
<circle cx="886.7" cy="166.6" r="6.85"/>
<circle cx="892.0" cy="169.3" r="6.85"/>
<circle cx="897.2" cy="169.3" r="6.85"/>
<circle cx="902.5" cy="171.9" r="6.85"/>
<circle cx="907.8" cy="174.5" r="6.85"/>
<circle cx="913.0" cy="177.1" r="6.85"/>
<circle cx="918.3" cy="177.1" r="6.85"/>
<circle cx="923.5" cy="179.8" r="6.85"/>
<circle cx="926.2" cy="179.8" r="6.85"/>
<circle cx="931.4" cy="182.4" r="6.85"/>
<circle cx="936.7" cy="185.0" r="6.85"/>
<circle cx="941.9" cy="187.7" r="6.85"/>
<circle cx="947.2" cy="187.7" r="6.85"/>
<circle cx="952.5" cy="187.7" r="6.85"/>
<circle cx="957.7" cy="190.3" r="6.85"/>
<circle cx="963.0" cy="192.9" r="6.85"/>
<circle cx="968.2" cy="192.9" r="6.85"/>
<circle cx="973.5" cy="195.5" r="6.85"/>
<circle cx="978.8" cy="198.2" r="6.85"/>
<circle cx="984.0" cy="200.8" r="6.85"/>
<circle cx="989.3" cy="200.8" r="6.85"/>
<circle cx="994.5" cy="200.8" r="6.85"/>
<circle cx="999.8" cy="203.4" r="6.85"/>
<circle cx="1005.1" cy="206.1" r="6.85"/>
<circle cx="1007.7" cy="208.7" r="6.85"/>
<circle cx="1012.9" cy="211.3" r="6.85"/>
<circle cx="1018.2" cy="211.3" r="6.85"/>
<circle cx="1023.5" cy="214.0" r="6.85"/>
<circle cx="1028.7" cy="214.0" r="6.85"/>
<circle cx="1034.0" cy="214.0" r="6.85"/>
<circle cx="1039.2" cy="216.6" r="6.85"/>
<circle cx="1044.5" cy="219.2" r="6.85"/>
<circle cx="1049.8" cy="221.8" r="6.85"/>
<circle cx="1055.0" cy="221.8" r="6.85"/>
<circle cx="1060.3" cy="224.5" r="6.85"/>
<circle cx="1065.5" cy="227.1" r="6.85"/>
<circle cx="1070.8" cy="227.1" r="6.85"/>
<circle cx="1076.1" cy="227.1" r="6.85"/>
<circle cx="1081.3" cy="232.4" r="6.85"/>
<circle cx="1086.6" cy="235.0" r="6.85"/>
<circle cx="1089.2" cy="235.0" r="6.85"/>
<circle cx="1094.5" cy="235.0" r="6.85"/>
<circle cx="1099.7" cy="235.0" r="6.85"/>
<circle cx="1105.0" cy="240.3" r="6.85"/>
<circle cx="1110.2" cy="242.9" r="6.85"/>
<circle cx="1115.5" cy="242.9" r="6.85"/>
<circle cx="1120.8" cy="240.3" r="6.85"/>
<circle cx="1126.0" cy="240.3" r="6.85"/>
<circle cx="1131.3" cy="240.3" r="6.85"/>
<circle cx="1136.5" cy="245.5" r="6.85"/>
<circle cx="1141.8" cy="256.0" r="6.85"/>
<circle cx="1147.1" cy="263.9" r="6.85"/>
<circle cx="1152.3" cy="261.3" r="6.85"/>
<circle cx="1157.6" cy="248.1" r="6.85"/>
<circle cx="1162.8" cy="229.7" r="6.85"/>
<circle cx="1168.1" cy="208.7" r="6.85"/>
<circle cx="1170.7" cy="195.5" r="6.85"/>
<circle cx="1176.0" cy="198.2" r="6.85"/>
<circle cx="1181.2" cy="227.1" r="6.85"/>
<circle cx="1186.5" cy="277.1" r="6.85"/>
<circle cx="1191.8" cy="350.7" r="6.85"/>
<circle cx="1197.0" cy="442.7" r="6.85"/>
<circle cx="1202.3" cy="540.0" r="6.85"/>
<circle cx="1207.5" cy="640.0" r="6.85"/>
<circle cx="1212.8" cy="734.6" r="6.85"/>
<circle cx="1218.1" cy="824.0" r="6.85"/>
<circle cx="1223.3" cy="900.3" r="6.85"/>
<circle cx="1228.6" cy="966.1" r="6.85"/>
<circle cx="1233.8" cy="1023.9" r="6.85"/>
<circle cx="1239.1" cy="1068.6" r="6.85"/>
<circle cx="1244.4" cy="1105.4" r="6.85"/>
<circle cx="1249.6" cy="1131.7" r="6.85"/>
<circle cx="1252.2" cy="1152.8" r="6.85"/>
<circle cx="1257.5" cy="1171.2" r="6.85"/>
<circle cx="1262.8" cy="1181.7" r="6.85"/>
<circle cx="1268.0" cy="1192.2" r="6.85"/>
<circle cx="1273.3" cy="1197.5" r="6.85"/>
<circle cx="1278.5" cy="1202.7" r="6.85"/>
<circle cx="1283.8" cy="1208.0" r="6.85"/>
<circle cx="1289.1" cy="1210.6" r="6.85"/>
<circle cx="1294.3" cy="1210.6" r="6.85"/>
<circle cx="1299.6" cy="1210.6" r="6.85"/>
<circle cx="1304.8" cy="1213.2" r="6.85"/>
<circle cx="1310.1" cy="1213.2" r="6.85"/>
<circle cx="1315.4" cy="1213.2" r="6.85"/>
<circle cx="1320.6" cy="1213.2" r="6.85"/>
<circle cx="1325.9" cy="1213.2" r="6.85"/>
<circle cx="1331.1" cy="1213.2" r="6.85"/>
<circle cx="1333.8" cy="1213.2" r="6.85"/>
<circle cx="1339.0" cy="1213.2" r="6.85"/>
<circle cx="1344.3" cy="1213.2" r="6.85"/>
<circle cx="1349.5" cy="1213.2" r="6.85"/>
<circle cx="1354.8" cy="1213.2" r="6.85"/>
<circle cx="1360.1" cy="1213.2" r="6.85"/>
<circle cx="1365.3" cy="1213.2" r="6.85"/>
<circle cx="1370.6" cy="1213.2" r="6.85"/>
<circle cx="1375.8" cy="1213.2" r="6.85"/>
<circle cx="1381.1" cy="1213.2" r="6.85"/>
<circle cx="1386.4" cy="1213.2" r="6.85"/>
<circle cx="1391.6" cy="1213.2" r="6.85"/>
<circle cx="1396.9" cy="1213.2" r="6.85"/>
<circle cx="1402.1" cy="1213.2" r="6.85"/>
<circle cx="1407.4" cy="1213.2" r="6.85"/>
<circle cx="1412.7" cy="1213.2" r="6.85"/>
<circle cx="1415.3" cy="1213.2" r="6.85"/>
<circle cx="1420.5" cy="1213.2" r="6.85"/>
<circle cx="1425.8" cy="1213.2" r="6.85"/>
<circle cx="1431.1" cy="1213.2" r="6.85"/>
<circle cx="1436.3" cy="1213.2" r="6.85"/>
<circle cx="1441.6" cy="1213.2" r="6.85"/>
<circle cx="1446.8" cy="1213.2" r="6.85"/>
<circle cx="1452.1" cy="1213.2" r="6.85"/>
<circle cx="1457.4" cy="1213.2" r="6.85"/>
<circle cx="1462.6" cy="1213.2" r="6.85"/>
<circle cx="1467.9" cy="1213.2" r="6.85"/>
<circle cx="1473.1" cy="1213.2" r="6.85"/>
<circle cx="1478.4" cy="1213.2" r="6.85"/>
<circle cx="1483.7" cy="1213.2" r="6.85"/>
<circle cx="1488.9" cy="1213.2" r="6.85"/>
<circle cx="1494.2" cy="1213.2" r="6.85"/>
<circle cx="1496.8" cy="1213.2" r="6.85"/>
<circle cx="1502.1" cy="1213.2" r="6.85"/>
<circle cx="1507.3" cy="1213.2" r="6.85"/>
<circle cx="1512.6" cy="1213.2" r="6.85"/>
<circle cx="1517.8" cy="1213.2" r="6.85"/>
<circle cx="1523.1" cy="1213.2" r="6.85"/>
<circle cx="1528.4" cy="1213.2" r="6.85"/>
<circle cx="1533.6" cy="1213.2" r="6.85"/>
<circle cx="1538.9" cy="1213.2" r="6.85"/>
<circle cx="1544.1" cy="1213.2" r="6.85"/>
<circle cx="1549.4" cy="1213.2" r="6.85"/>
<circle cx="1554.7" cy="1213.2" r="6.85"/>
<circle cx="1559.9" cy="1213.2" r="6.85"/>
<circle cx="1565.2" cy="1213.2" r="6.85"/>
<circle cx="1570.4" cy="1213.2" r="6.85"/>
<circle cx="1575.7" cy="1213.2" r="6.85"/>
</g>
<g font-size="52.6" text-anchor="end">
<text x="163.6" y="1232.9">0</text>
<text x="163.6" y="1111.4">0.1</text>
<text x="163.6" y="990.4">0.2</text>
<text x="163.6" y="869.5">0.3</text>
<text x="163.6" y="751.1">0.4</text>
<text x="163.6" y="630.2">0.5</text>
<text x="163.6" y="509.2">0.6</text>
<text x="163.6" y="390.9">0.7</text>
<text x="163.6" y="269.9">0.8</text>
<text x="163.6" y="148.9">0.9</text>
<text x="163.6" y="29.4">1</text>
</g>
<g>
<text x="146.59 160.96" y="1268.70" font-size="52.6">-1</text>
<text x="501.54 516.85 543.62 556.76" y="1268.70" font-size="52.6">-0.5</text>
<text x="911.60" y="1268.70" font-size="52.6">0</text>
<text x="1266.50 1293.12 1306.06" y="1268.70" font-size="52.6">0.5</text>
<text x="1660.80" y="1268.70" font-size="52.6">1</text>
</g>
<text x="922" y="1339" font-size="66.4" text-anchor="middle">x (mm)</text>
<text transform="translate(42.8,895.2) rotate(-90)" font-size="63.6">Normalized intensity</text>
<g fill="none" stroke="#000" stroke-width="4.0" stroke-linecap="butt"><rect x="1225.1" y="78.8" width="404.8000000000002" height="336.5" fill="#fff" stroke="none"/>
<path d="M1225.1,415.3H1629.9M1225.1,78.8H1629.9M1225.1,415.3V78.8M1629.9,415.3V78.8"/></g>
<g fill="none" stroke-linecap="butt">
<path d="M1245.9,115.4H1351.6" stroke="#0000ff" stroke-width="10.5" stroke-dasharray="31.5 10.5"/>
<path d="M1245.9,181.1H1351.6" stroke="#007f00" stroke-width="10.5" stroke-dasharray="10.5 10.5"/>
<path d="M1245.9,247.2H1351.6" stroke="#ff0000" stroke-width="10.5" stroke-dasharray="31.5 10.5 10.5 10.5"/>
<path d="M1245.9,310.1H1351.6" stroke="#00bfbf" stroke-width="10.5"/>
<path d="M1245.9,376.1H1351.6" stroke="#bf00bf" stroke-width="4.4"/>
</g>
<circle cx="1299.8" cy="376.1" r="6.85" fill="#bf00bf"/>
<g>
<text x="1360.36 1387.82 1413.81 1440.28" y="135.50" font-size="52.0">16ps</text>
<text x="1360.93 1387.82 1413.81 1440.28" y="200.60" font-size="52.0">26ps</text>
<text x="1360.46 1387.82 1413.81 1440.28" y="266.80" font-size="52.0">36ps</text>
<text x="1361.03 1387.82 1413.81 1440.28" y="329.80" font-size="52.0">46ps</text>
<text x="1361.43 1382.49 1398.19 1422.26 1447.83 1474.50 1500.50 1511.38 1532.24 1547.81 1574.69 1590.44" y="396.00" font-size="52.0">steady state</text>
</g>
</svg></body></html>
